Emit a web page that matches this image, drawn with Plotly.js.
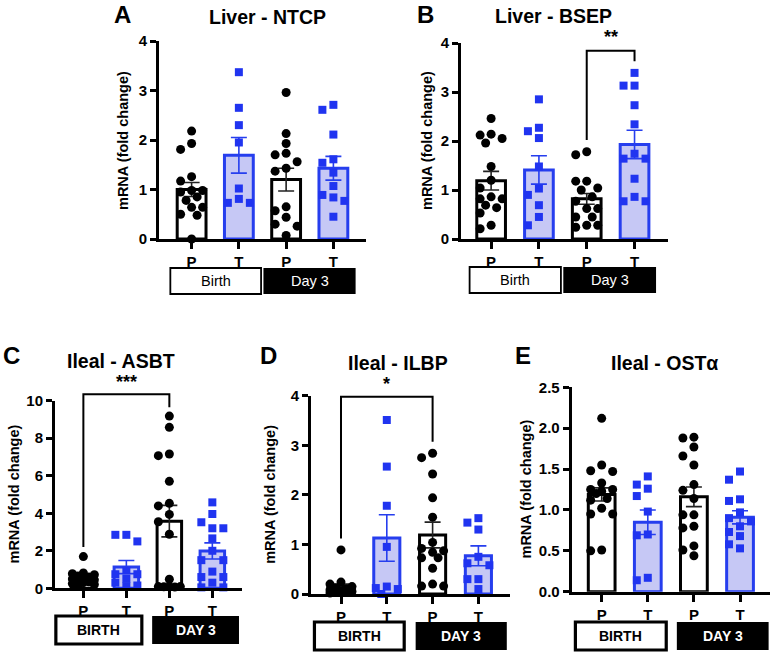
<!DOCTYPE html>
<html><head><meta charset="utf-8">
<script src="https://cdn.plot.ly/plotly-3.0.1.min.js"></script>
<style>html,body{margin:0;padding:0;background:#fff}</style>
</head><body><div id="chart" style="width:771px;height:658px"></div>
<script>
// ---------------- DATA ----------------
const categories = ['P', 'T', 'P', 'T'];
const groupLabelsLiver = ['Birth', 'Day 3'];
const groupLabelsIleal = ['BIRTH', 'DAY 3'];
const panelLetters = ['A', 'B', 'C', 'D', 'E'];
const panelTitles = ['Liver - NTCP', 'Liver - BSEP', 'Ileal - ASBT', 'Ileal - ILBP', 'Ileal - OSTα'];
const yTitle = 'mRNA (fold change)';

// A: Liver NTCP  (order: P birth, T birth, P day3, T day3)
const ntcpPoints = [
  [2.18, 1.93, 1.81, 1.26, 1.17, 0.98, 0.98, 0.95, 0.85, 0.78, 0.64, 0.64, 0.50, 0.48, 0.00],
  [3.37, 2.65, 2.30, 1.95, 1.02, 0.81, 0.73, 0.73],
  [2.96, 2.13, 1.93, 1.73, 1.70, 1.56, 1.43, 1.37, 0.65, 0.57, 0.44, 0.30, 0.26, 0.07],
  [2.71, 2.61, 2.11, 1.61, 1.54, 1.34, 1.07, 0.89, 0.84, 0.77, 0.45]
];
const ntcpMean = [1.00, 1.69, 1.20, 1.43];
const ntcpSem = [0.14, 0.36, 0.23, 0.24];

// B: Liver BSEP
const bsepPoints = [
  [2.46, 2.14, 2.12, 2.05, 1.96, 1.48, 1.20, 1.04, 0.86, 0.82, 0.82, 0.69, 0.64, 0.53, 0.28, 0.21],
  [2.85, 2.27, 2.20, 2.06, 1.48, 1.03, 0.90, 0.69, 0.45, 0.28],
  [1.78, 1.72, 1.18, 1.18, 1.04, 1.00, 0.86, 0.77, 0.62, 0.62, 0.45, 0.45, 0.28, 0.28, 0.24],
  [3.39, 3.13, 3.13, 2.73, 2.34, 1.74, 1.64, 1.64, 1.23, 0.86, 0.77, 0.77]
];
const bsepMean = [1.19, 1.41, 0.82, 1.93];
const bsepSem = [0.19, 0.29, 0.11, 0.29];

// C: Ileal ASBT
const asbtPoints = [
  [1.69, 0.82, 0.78, 0.72, 0.65, 0.60, 0.55, 0.50, 0.45, 0.40, 0.35, 0.30, 0.25, 0.20, 0.15],
  [2.85, 2.85, 2.50, 0.95, 0.75, 0.75, 0.50, 0.30, 0.15, 0.10],
  [9.18, 8.58, 7.16, 7.07, 5.70, 4.53, 4.39, 3.94, 3.55, 2.88, 0.48, 0.09, 0.09, 0.08, 0.08, 0.07],
  [4.58, 3.96, 3.52, 3.20, 3.20, 2.66, 2.00, 1.50, 1.50, 0.89, 0.60, 0.60, 0.30, 0.05, 0.05]
];
const asbtMean = [0.54, 1.13, 3.58, 1.99];
const asbtSem = [0.10, 0.35, 0.84, 0.43];

// D: Ileal ILBP
const ilbpPoints = [
  [0.89, 0.24, 0.20, 0.15, 0.12, 0.10, 0.08, 0.06, 0.05, 0.04, 0.03, 0.02],
  [3.51, 2.57, 1.78, 0.95, 0.15, 0.12, 0.10, 0.00],
  [2.84, 2.75, 2.42, 1.94, 1.55, 1.04, 0.92, 0.87, 0.84, 0.73, 0.73, 0.52, 0.20, 0.16, 0.16],
  [1.53, 1.44, 1.30, 0.75, 0.62, 0.58, 0.30, 0.30, 0.10]
];
const ilbpMean = [0.15, 1.13, 1.19, 0.77];
const ilbpSem = [0.05, 0.47, 0.26, 0.20];

// E: Ileal OST alpha
const ostPoints = [
  [2.12, 1.55, 1.48, 1.47, 1.33, 1.25, 1.25, 1.23, 1.20, 1.14, 1.12, 1.02, 0.95, 0.95, 0.51, 0.50],
  [1.41, 1.31, 1.26, 1.17, 0.98, 0.70, 0.69, 0.17, 0.14],
  [1.89, 1.88, 1.77, 1.66, 1.55, 1.31, 1.24, 1.14, 0.94, 0.94, 0.80, 0.78, 0.56, 0.51, 0.44],
  [1.47, 1.37, 1.13, 1.11, 0.97, 0.90, 0.86, 0.80, 0.73, 0.68, 0.58, 0.53]
];
const ostMean = [1.19, 0.85, 1.16, 0.91];
const ostSem = [0.08, 0.15, 0.12, 0.08];

// Significance brackets: [fromCat, toCat, leftArmBottom, top, rightArmBottom, label, labelValue]
const bracketB = [2, 3, 2.02, 3.84, 3.63, '**', 4.12];
const bracketC = [0, 2, 2.2, 10.34, 9.65, '***', 11.0];
const bracketD = [0, 2, 1.12, 3.98, 3.07, '*', 4.24];

// ---------------- LAYOUT GEOMETRY ----------------
const W = 771, H = 658;
const FONT = 'Arial, "Liberation Sans", Helvetica, sans-serif';
const BLUE = 'rgb(32,52,240)';
const BLUE_LINE = 'rgb(38,62,238)';
const BLUE_FILL = 'rgb(198,200,245)';

const panels = [
  {pts: ntcpPoints, mean: ntcpMean, sem: ntcpSem, bracket: null,
   x0: 159, x1: 366, top: 41, bot: 239, xr: [-0.69, 3.69], yr: [0, 4], ticks: [0, 1, 2, 3, 4], fmt: 'd',
   bw: 0.61, letter: [123, 15], title: [267, 17], ytx: 123,
   boxes: [[-0.45, 1.47], [1.52, 3.47]], boxY: [268, 294], labels: groupLabelsLiver, style: 'liver'},
  {pts: bsepPoints, mean: bsepMean, sem: bsepSem, bracket: bracketB,
   x0: 461, x1: 668, top: 43, bot: 239, xr: [-0.63, 3.70], yr: [0, 4], ticks: [0, 1, 2, 3, 4], fmt: 'd',
   bw: 0.60, letter: [425, 14], title: [553, 16], ytx: 427,
   boxes: [[-0.45, 1.46], [1.51, 3.45]], boxY: [267, 293], labels: groupLabelsLiver, style: 'liver'},
  {pts: asbtPoints, mean: asbtMean, sem: asbtSem, bracket: bracketC,
   x0: 55, x1: 242, top: 400.7, bot: 588.3, xr: [-0.66, 3.69], yr: [0, 10], ticks: [0, 2, 4, 6, 8, 10], fmt: 'd',
   bw: 0.57, letter: [11, 355], title: [121, 361], ytx: 13,
   boxes: [[-0.64, 1.36], [1.60, 3.62]], boxY: [616, 644], labels: groupLabelsIleal, style: 'ileal'},
  {pts: ilbpPoints, mean: ilbpMean, sem: ilbpSem, bracket: bracketD,
   x0: 311, x1: 510, top: 395.7, bot: 594, xr: [-0.655, 3.69], yr: [0, 4], ticks: [0, 1, 2, 3, 4], fmt: 'd',
   bw: 0.57, letter: [268, 355], title: [398, 363], ytx: 270,
   boxes: [[-0.58, 1.38], [1.63, 3.62]], boxY: [622, 650], labels: groupLabelsIleal, style: 'ileal'},
  {pts: ostPoints, mean: ostMean, sem: ostSem, bracket: null,
   x0: 571.7, x1: 770, top: 387.3, bot: 591.7, xr: [-0.65, 3.65], yr: [0, 2.5], ticks: [0, 0.5, 1, 1.5, 2, 2.5], fmt: '.1f',
   bw: 0.58, letter: [523, 355], title: [664, 363], ytx: 525,
   boxes: [[-0.57, 1.40], [1.63, 3.62]], boxY: [622, 650], labels: groupLabelsIleal, style: 'ileal'}
];

function sxOf(g) { return (g.x1 - g.x0) / (g.xr[1] - g.xr[0]); }
function syOf(g) { return (g.bot - g.top) / (g.yr[1] - g.yr[0]); }
function pxX(g, v) { return (g.x0 + (v - g.xr[0]) * sxOf(g)) / W; }
function pxY(g, v) { return 1 - (g.bot - (v - g.yr[0]) * syOf(g)) / H; }
function pX(px) { return px / W; }
function pY(px) { return 1 - px / H; }

// beeswarm-like horizontal spread (computed from the values and the axis scale)
function swarm(vals, g) {
  const sx = sxOf(g), sy = syOf(g);
  const step = 11, minD = 9.5;
  const placed = [], out = [];
  vals.forEach(v => {
    const y = v * sy;
    let chosen = null;
    for (const c of [0, -step, step]) {
      if (placed.every(p => Math.hypot(p[0] - c, p[1] - y) >= minD)) { chosen = c; break; }
    }
    if (chosen === null) {
      let best = 0, bestD = -1;
      for (const c of [0, -step, step, -step / 2, step / 2]) {
        const d = Math.min(...placed.map(p => Math.hypot(p[0] - c, p[1] - y)));
        if (d > bestD) { bestD = d; best = c; }
      }
      chosen = best;
    }
    placed.push([chosen, y]);
    out.push(chosen / sx);
  });
  return out;
}

const traces = [];
const shapes = [];
const annotations = [];
const layout = {
  width: W, height: H, margin: {l: 0, r: 0, t: 0, b: 0},
  paper_bgcolor: '#fff', plot_bgcolor: 'rgba(0,0,0,0)',
  showlegend: false, barmode: 'overlay',
  font: {family: FONT, color: '#000'}
};

panels.forEach((g, i) => {
  const n = i + 1;
  const xa = n === 1 ? 'x' : 'x' + n;
  const ya = n === 1 ? 'y' : 'y' + n;
  const xKey = n === 1 ? 'xaxis' : 'xaxis' + n;
  const yKey = n === 1 ? 'yaxis' : 'yaxis' + n;

  layout[xKey] = {
    domain: [g.x0 / W, g.x1 / W], range: g.xr, anchor: ya,
    tickvals: [0, 1, 2, 3], ticktext: categories,
    ticks: 'outside', ticklen: 7, tickwidth: 3, tickcolor: '#000',
    showline: true, linewidth: 3, linecolor: '#000',
    showgrid: false, zeroline: false, fixedrange: true,
    tickfont: {family: FONT, size: 15, weight: 'bold', color: '#000'}
  };
  layout[yKey] = {
    domain: [1 - g.bot / H, 1 - g.top / H], range: g.yr, anchor: xa,
    tickvals: g.ticks, tickformat: g.fmt,
    ticks: 'outside', ticklen: 6, tickwidth: 3, tickcolor: '#000',
    showline: true, linewidth: 3, linecolor: '#000',
    showgrid: false, zeroline: false, fixedrange: true,
    tickfont: {family: FONT, size: 15, weight: 'bold', color: '#000'}
  };

  // bars: P (white/black) and T (lavender/blue)
  [[0, 2], [1, 3]].forEach((idx, k) => {
    traces.push({
      type: 'bar', xaxis: xa, yaxis: ya,
      x: idx, y: idx.map(j => g.mean[j]), width: g.bw,
      marker: {color: k === 0 ? '#fff' : BLUE_FILL, line: {color: k === 0 ? '#000' : BLUE_LINE, width: 3}},
      error_y: {type: 'data', array: idx.map(j => g.sem[j]), visible: true,
                color: k === 0 ? '#222' : BLUE_LINE, thickness: 1.6, width: 8},
      hoverinfo: 'skip'
    });
  });

  // individual points
  g.pts.forEach((vals, j) => {
    const off = swarm(vals, g);
    const isT = j % 2 === 1;
    traces.push({
      type: 'scatter', mode: 'markers', xaxis: xa, yaxis: ya, cliponaxis: false,
      x: vals.map((v, m) => j + off[m]), y: vals,
      marker: isT ? {symbol: 'square', size: 8, color: BLUE, line: {width: 0}}
                  : {symbol: 'circle', size: 9, color: '#000', line: {width: 0}},
      hoverinfo: 'skip'
    });
  });

  // panel letter, title, y title
  annotations.push({xref: 'paper', yref: 'paper', x: pX(g.letter[0]), y: pY(g.letter[1]),
    text: panelLetters[i], showarrow: false, xanchor: 'center', yanchor: 'middle',
    font: {family: FONT, size: 24, weight: 'bold', color: '#000'}});
  annotations.push({xref: 'paper', yref: 'paper', x: pX(g.title[0]), y: pY(g.title[1]),
    text: panelTitles[i], showarrow: false, xanchor: 'center', yanchor: 'middle',
    font: {family: FONT, size: 19.5, weight: 'bold', color: '#000'}});
  annotations.push({xref: 'paper', yref: 'paper', x: pX(g.ytx), y: pY((g.top + g.bot) / 2),
    text: yTitle, textangle: -90, showarrow: false, xanchor: 'center', yanchor: 'middle',
    font: {family: FONT, size: 14.5, weight: 'bold', color: '#000'}});

  // group boxes
  const yb0 = pY(g.boxY[1]), yb1 = pY(g.boxY[0]);
  g.boxes.forEach((bx, k) => {
    const filled = k === 1;
    const bwid = g.style === 'liver' ? 1.8 : 3.2;
    shapes.push({type: 'rect', xref: 'paper', yref: 'paper',
      x0: pxX(g, bx[0]), x1: pxX(g, bx[1]), y0: yb0, y1: yb1,
      fillcolor: filled ? '#000' : '#fff',
      line: {color: '#000', width: filled ? 0 : bwid}});
    annotations.push({xref: 'paper', yref: 'paper',
      x: (pxX(g, bx[0]) + pxX(g, bx[1])) / 2, y: (yb0 + yb1) / 2,
      text: g.labels[k], showarrow: false, xanchor: 'center', yanchor: 'middle',
      font: {family: FONT, size: g.style === 'liver' ? 14.5 : 14,
             weight: g.style === 'liver' ? 'normal' : 'bold', color: filled ? '#fff' : '#000'}});
  });

  // significance bracket
  if (g.bracket) {
    const [a, b, yl, yt, yr, lab, ylab] = g.bracket;
    const xA = pxX(g, a), xB = pxX(g, b);
    shapes.push({type: 'path', xref: 'paper', yref: 'paper',
      path: `M ${xA} ${pxY(g, yl)} L ${xA} ${pxY(g, yt)} L ${xB} ${pxY(g, yt)} L ${xB} ${pxY(g, yr)}`,
      line: {color: '#000', width: 2}});
    annotations.push({xref: 'paper', yref: 'paper', x: (xA + xB) / 2, y: pxY(g, ylab),
      text: lab, showarrow: false, xanchor: 'center', yanchor: 'middle',
      font: {family: FONT, size: 18, weight: 'bold', color: '#000'}});
  }
});

layout.shapes = shapes;
layout.annotations = annotations;

Plotly.newPlot('chart', traces, layout, {displayModeBar: false, staticPlot: true});
</script>
</body></html>
